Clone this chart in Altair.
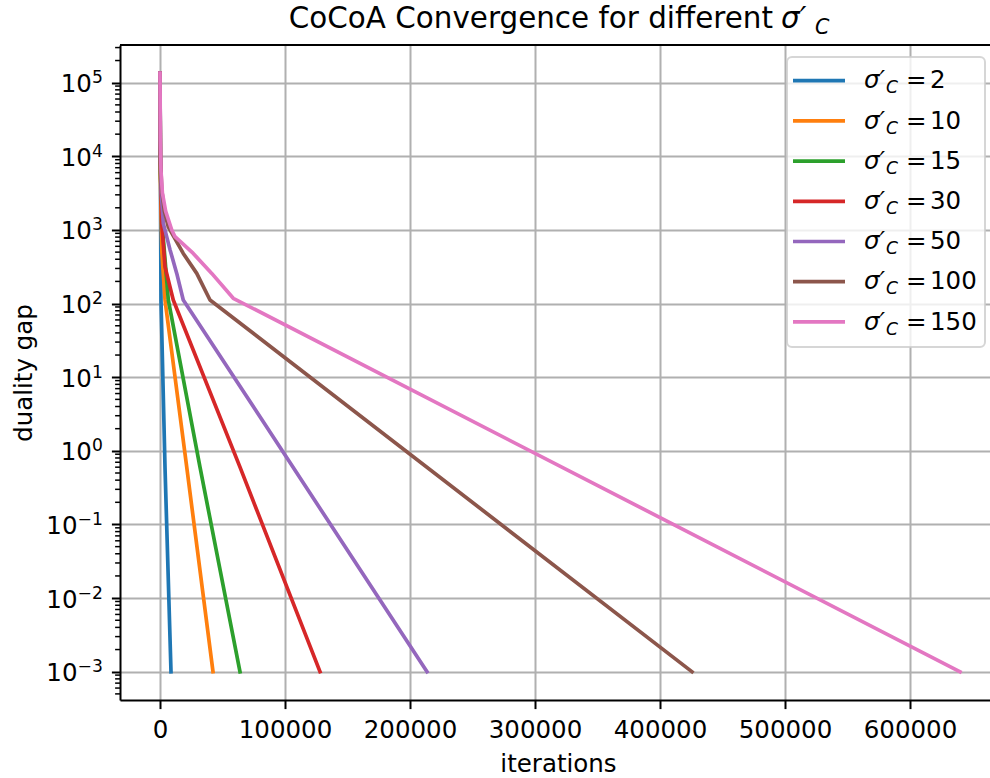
import altair as alt
import pandas as pd

# Duality gap vs. iterations for each sigma'_C setting
sigma_values = [2, 10, 15, 30, 50, 100, 150]
colors = ["#1f77b4", "#ff7f0e", "#2ca02c", "#d62728", "#9467bd", "#8c564b", "#e377c2"]

iters_2 = [0, 800, 4000, 8800]
gap_2 = [1.35e5, 110, 0.6, 1e-3]

iters_10 = [0, 300, 1500, 4000, 21400, 42400]
gap_10 = [1.35e5, 5.0e3, 5.0e2, 112, 0.6, 1e-3]

iters_15 = [0, 300, 2100, 6640, 32000, 64000]
gap_15 = [1.35e5, 6.3e3, 1.0e3, 112, 0.6, 1e-3]

iters_30 = [0, 300, 1400, 4000, 10600, 64000, 128000]
gap_30 = [1.35e5, 7.9e3, 1.23e3, 316, 112, 0.6, 1e-3]

iters_50 = [0, 300, 1000, 2640, 8000, 13400, 18600, 80000, 213600]
gap_50 = [1.35e5, 1.0e4, 3.2e3, 1.23e3, 540, 257, 112, 2.9, 1e-3]

iters_100 = [0, 300, 1400, 3500, 6600, 18600, 29400, 40000, 425600]
gap_100 = [1.35e5, 1.0e4, 3.5e3, 1.8e3, 1.1e3, 480, 257, 112, 1e-3]

iters_150 = [0, 300, 800, 1900, 4500, 9400, 12000, 26600, 41400, 58600, 640000]
gap_150 = [1.35e5, 1.6e4, 6.3e3, 3.2e3, 1.8e3, 1.0e3, 810, 480, 257, 118, 1e-3]

series_iters = [iters_2, iters_10, iters_15, iters_30, iters_50, iters_100, iters_150]
series_gaps = [gap_2, gap_10, gap_15, gap_30, gap_50, gap_100, gap_150]

x_ticks = [0, 100000, 200000, 300000, 400000, 500000, 600000]
y_exponents = [-3, -2, -1, 0, 1, 2, 3, 4, 5]
y_minor = [m * 10.0 ** k for k in range(-4, 6) for m in range(2, 10)]
y_minor = [v for v in y_minor if 4.2e-4 < v < 3.2e5]

FONT = "DejaVu Sans"
W, H = 870, 655
FS = 24.5          # 10 pt
FS_SMALL = 17.15   # script size (0.7 of text)
FS_TITLE = 29.4    # 12 pt
SIGMA_PRIME = "\u03c3\u2032"

x_scale = alt.Scale(domain=[-32000, 664000], nice=False, zero=False)
y_scale = alt.Scale(type="log", domain=[10 ** -3.384, 10 ** 5.512], nice=False)

x_axis = alt.Axis(
    values=x_ticks, format="d", title="iterations",
    grid=True, gridColor="#b0b0b0", gridWidth=2,
    tickColor="black", tickWidth=2, tickSize=8.6,
    domainColor="black", domainWidth=2,
    labelFont=FONT, labelFontSize=FS, labelColor="black", labelPadding=10.3,
    labelFlush=False, labelOverlap=False,
    titleFont=FONT, titleFontSize=FS, titleFontWeight="normal", titleColor="black",
    titleX=438, titleY=71.7, titleAlign="center", titleBaseline="alphabetic",
)

y_axis = alt.Axis(
    values=[10.0 ** k for k in y_exponents], labels=False, title="duality gap",
    grid=True, gridColor="#b0b0b0", gridWidth=2,
    tickColor="black", tickWidth=2, tickSize=8.6,
    domainColor="black", domainWidth=2,
    titleFont=FONT, titleFontSize=FS, titleFontWeight="normal", titleColor="black",
    titleAngle=270, titleX=-88.4, titleY=327.5, titleAlign="center", titleBaseline="alphabetic",
)

layers = []

# convergence curves, first series drawn first so the last sits on top
for its, gaps, col in zip(series_iters, series_gaps, colors):
    df = pd.DataFrame({"iter": its, "gap": gaps})
    layers.append(
        alt.Chart(df).mark_line(color=col, strokeWidth=3.7, strokeJoin="round",
                                strokeCap="square", clip=True).encode(
            x=alt.X("iter:Q", scale=x_scale, axis=x_axis),
            y=alt.Y("gap:Q", scale=y_scale, axis=y_axis),
            order=alt.Order("iter:Q"),
        )
    )

# minor ticks on the log axis
minor_df = pd.DataFrame({"v": y_minor})
layers.append(
    alt.Chart(minor_df).mark_rule(color="black", strokeWidth=1.5).encode(
        y=alt.Y("v:Q", scale=y_scale, axis=y_axis),
        x=alt.value(-4.9), x2=alt.value(0),
    )
)

# power-of-ten tick labels: "10" with a raised exponent
MINUS = "\u2212"
exp_text = [(MINUS + str(-k)) if k < 0 else str(k) for k in y_exponents]
exp_width = [(0.838 if k < 0 else 0.0) * FS_SMALL + 0.636 * FS_SMALL for k in y_exponents]
lab_df = pd.DataFrame({
    "v": [10.0 ** k for k in y_exponents],
    "exp": exp_text,
    "x_base": [-17.2 - w for w in exp_width],
})
layers.append(
    alt.Chart(lab_df).mark_text(font=FONT, fontSize=FS, align="right", baseline="alphabetic",
                                dy=9.5, color="black").encode(
        y=alt.Y("v:Q", scale=y_scale, axis=y_axis),
        x=alt.X("x_base:Q", scale=None),
        text=alt.value("10"),
    )
)
layers.append(
    alt.Chart(lab_df).mark_text(font=FONT, fontSize=FS_SMALL, align="right", baseline="alphabetic",
                                dy=0.5, color="black").encode(
        y=alt.Y("v:Q", scale=y_scale, axis=y_axis),
        x=alt.value(-17.2),
        text="exp:N",
    )
)

one = pd.DataFrame({"a": [0]})

# top spine
layers.append(
    alt.Chart(one).mark_rule(color="black", strokeWidth=2).encode(
        x=alt.value(0), x2=alt.value(W), y=alt.value(0)
    )
)

# legend frame
layers.append(
    alt.Chart(one).mark_rect(fill="white", fillOpacity=0.8, stroke="#cccccc",
                             strokeOpacity=0.8, strokeWidth=2, cornerRadius=5).encode(
        x=alt.value(667), x2=alt.value(865), y=alt.value(12), y2=alt.value(302)
    )
)

legend_df = pd.DataFrame({
    "num": [str(s) for s in sigma_values],
    "color": colors,
})
legend_df["yc"] = [35.7 + 40.2 * i for i in range(len(legend_df))]
legend_df["ybase"] = legend_df["yc"] + 7.6
legend_df["ysub"] = legend_df["yc"] + 12.6


def legend_text(text, x, ykey, size=FS, italic=False):
    kw = dict(font=FONT, fontSize=size, align="left", baseline="alphabetic", color="black")
    if italic:
        kw["fontStyle"] = "italic"
    txt = alt.value(text) if not text.endswith(":N") else text
    return alt.Chart(legend_df).mark_text(**kw).encode(
        y=alt.Y(ykey + ":Q", scale=None), x=alt.value(x), text=txt,
    )


layers.append(
    alt.Chart(legend_df).mark_rule(strokeWidth=3.7).encode(
        y=alt.Y("yc:Q", scale=None),
        x=alt.value(673), x2=alt.value(725),
        color=alt.Color("color:N", scale=None, legend=None),
    )
)
layers.append(legend_text(SIGMA_PRIME, 744, "ybase", italic=True))
layers.append(legend_text("C", 766, "ysub", size=FS_SMALL, italic=True))
layers.append(legend_text("=", 786, "ybase"))
layers.append(legend_text("num:N", 810, "ybase"))


def title_text(text, x, y, size=FS_TITLE, italic=False, align="left"):
    kw = dict(font=FONT, fontSize=size, align=align, baseline="alphabetic", color="black")
    if italic:
        kw["fontStyle"] = "italic"
    return alt.Chart(one).mark_text(**kw).encode(
        x=alt.value(x), y=alt.value(y), text=alt.value(text)
    )


# chart title with sigma'_C
layers.append(title_text("CoCoA Convergence for different", 653, -16.7, align="right"))
layers.append(title_text(SIGMA_PRIME, 661, -16.7, italic=True))
layers.append(title_text("C", 695, -10.7, size=20.6, italic=True))

chart = alt.layer(*layers).properties(
    width=W, height=H,
    autosize=alt.AutoSizeParams(type="none"),
    padding={"left": 120, "top": 45, "right": 0, "bottom": 78},
    background="white",
).configure_view(stroke=None).configure(font=FONT)

chart.save("out.html", embed_options={"renderer": "svg", "actions": False})
